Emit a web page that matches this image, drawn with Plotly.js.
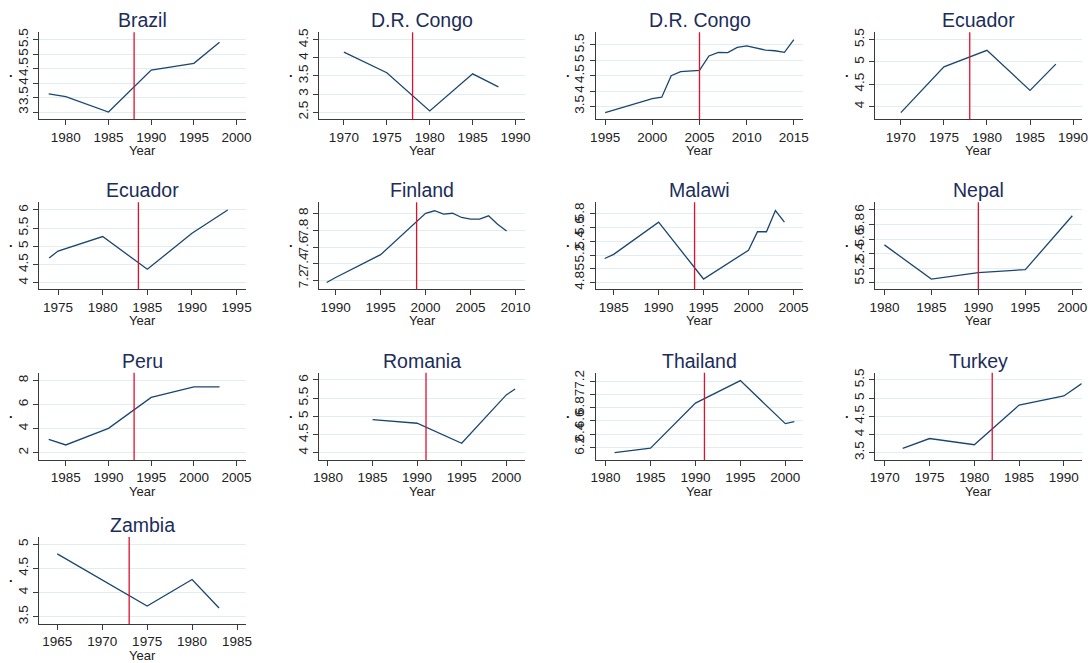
<!DOCTYPE html>
<html>
<head>
<meta charset="utf-8">
<script src="https://cdn.plot.ly/plotly-3.0.1.min.js"></script>
<style>
html,body{margin:0;padding:0;background:#fff;}
#chart{width:1088px;height:663px;}
</style>
</head>
<body>
<div id="chart"></div>
<script>
// ---- data ----
const countries = ["Brazil","D.R. Congo","D.R. Congo","Ecuador","Ecuador","Finland","Malawi","Nepal","Peru","Romania","Thailand","Turkey","Zambia"];
const eventYears = [1988,1978,2005,1978,1984,1999,1994,1990,1993,1991,1991,1982,1973];
const xTitle = "Year";
const yTitle = ".";

const brazilYears = [1978,1980,1985,1990,1995,1998];
const brazilVals  = [3.63,3.53,3.0,4.45,4.68,5.41];
const drc1Years = [1970,1975,1980,1985,1988];
const drc1Vals  = [4.16,3.59,2.53,3.56,3.2];
const drc2Years = [1995,2000,2001,2002,2003,2004,2005,2006,2007,2008,2009,2010,2011,2012,2013,2014,2015];
const drc2Vals  = [3.30,3.75,3.80,4.50,4.63,4.66,4.67,5.14,5.26,5.25,5.42,5.47,5.39,5.33,5.31,5.26,5.67];
const ecu1Years = [1970,1975,1980,1985,1988];
const ecu1Vals  = [3.86,4.89,5.26,4.36,4.95];
const ecu2Years = [1974,1975,1980,1985,1990,1994];
const ecu2Vals  = [4.68,4.87,5.27,4.37,5.36,6.0];
const finYears = [1989,1990,1995,2000,2001,2002,2003,2004,2005,2006,2007,2008,2009];
const finVals  = [7.18,7.24,7.51,8.0,8.03,7.99,8.0,7.95,7.93,7.93,7.97,7.87,7.79];
const malYears = [1984,1985,1990,1995,2000,2001,2002,2003,2004];
const malVals  = [5.15,5.21,5.68,4.85,5.27,5.54,5.54,5.85,5.68];
const nepYears = [1980,1985,1990,1995,2000];
const nepVals  = [5.52,5.05,5.14,5.18,5.92];
const peruYears = [1983,1985,1990,1995,2000,2003];
const peruVals  = [3.1,2.64,4.02,6.59,7.47,7.47];
const romYears = [1985,1990,1995,2000,2001];
const romVals  = [4.91,4.81,4.26,5.59,5.75];
const thaYears = [1981,1985,1990,1995,2000,2001];
const thaVals  = [6.12,6.19,6.87,7.21,6.56,6.59];
const turYears = [1972,1975,1980,1985,1990,1992];
const turVals  = [3.62,3.89,3.72,4.81,5.06,5.4];
const zamYears = [1965,1975,1980,1983];
const zamVals  = [4.8,3.72,4.27,3.68];

const seriesYears = [brazilYears,drc1Years,drc2Years,ecu1Years,ecu2Years,finYears,malYears,nepYears,peruYears,romYears,thaYears,turYears,zamYears];
const seriesVals  = [brazilVals,drc1Vals,drc2Vals,ecu1Vals,ecu2Vals,finVals,malVals,nepVals,peruVals,romVals,thaVals,turVals,zamVals];

const yTickVals = [
  [3,3.5,4,4.5,5,5.5],
  [2.5,3,3.5,4,4.5],
  [3.5,4,4.5,5,5.5],
  [4,4.5,5,5.5],
  [4,4.5,5,5.5,6],
  [7.2,7.4,7.6,7.8,8],
  [4.8,5,5.2,5.4,5.6,5.8],
  [5,5.2,5.4,5.6,5.8,6],
  [2,4,6,8],
  [4,4.5,5,5.5,6],
  [6.2,6.4,6.6,6.8,7,7.2],
  [3.5,4,4.5,5,5.5],
  [3.5,4,4.5,5]
];
const xTickStart = [1980,1970,1995,1970,1975,1990,1985,1980,1985,1980,1980,1970,1965];

// ---- axis configuration ----
const xRanges = [[1976.9,2001.1],[1967.1,1991.1],[1994,2016],[1967,1991],[1972.9,1996.05],[1988.15,2011.05],[1983,2006.1],[1979,2001],[1981.9,2006.1],[1979,2002.1],[1978.9,2002],[1968.9,1992],[1963,1986]];
const yRanges = [[2.75,5.75],[2.3,4.71],[3.08,5.91],[3.71,5.665],[3.82,6.21],[7.1,8.13],[4.7,5.97],[4.91,6.105],[1.39,8.64],[3.8,6.2],[6.01,7.33],[3.3,5.7],[3.35,5.15]];

const W = 1088, H = 663;
const colL = [39.3,319,595.7,875];
const colR = [246,525,803.3,1081.7];
const rowT = [32.3,202.3,372.7,537];
const rowB = [119.3,289.3,460,624];

const FONT = "Liberation Sans, Arial, Helvetica, sans-serif";
const lineColor = "#1a476f";
const eventColor = "#e0102f";
const axisColor = "#3a3a3a";

const data = [];
const layout = {
  width: W, height: H,
  margin: {l:0,r:0,t:0,b:0},
  paper_bgcolor: "#ffffff",
  plot_bgcolor: "#ffffff",
  showlegend: false,
  font: {family: FONT, color: "#222"},
  shapes: [],
  annotations: []
};

countries.forEach((name, i) => {
  const n = i + 1;
  const sfx = n === 1 ? "" : String(n);
  const c = i % 4, r = Math.floor(i / 4);
  data.push({
    type: "scatter", mode: "lines",
    x: seriesYears[i], y: seriesVals[i],
    xaxis: "x" + sfx, yaxis: "y" + sfx,
    line: {color: lineColor, width: 1.3},
    hoverinfo: "x+y"
  });
  layout["xaxis" + sfx] = {
    domain: [colL[c] / W, colR[c] / W],
    range: xRanges[i],
    anchor: "y" + sfx,
    tickmode: "linear", tick0: xTickStart[i], dtick: 5,
    ticks: "outside", ticklen: 5, tickwidth: 1, tickcolor: axisColor,
    showline: true, linecolor: axisColor, linewidth: 1,
    showgrid: false, zeroline: false,
    ticklabeloverflow: "allow",
    tickfont: {family: FONT, size: 13.5, color: "#222"}
  };
  layout["yaxis" + sfx] = {
    domain: [1 - rowB[r] / H, 1 - rowT[r] / H],
    range: yRanges[i],
    anchor: "x" + sfx,
    tickmode: "array", tickvals: yTickVals[i],
    ticks: "outside", ticklen: 5, tickwidth: 1, tickcolor: axisColor,
    showline: true, linecolor: axisColor, linewidth: 1,
    showgrid: true, gridcolor: "#e2edf0", gridwidth: 1,
    zeroline: false,
    tickangle: -90,
    tickfont: {family: FONT, size: 13.5, color: "#222"}
  };
  layout.shapes.push({
    type: "line", xref: "x" + sfx, yref: "y" + sfx + " domain",
    x0: eventYears[i], x1: eventYears[i], y0: 0, y1: 1,
    line: {color: eventColor, width: 1.3}
  });
  // panel title
  layout.annotations.push({
    text: name, showarrow: false,
    xref: "x" + sfx + " domain", yref: "y" + sfx + " domain",
    x: 0.5, y: 1, xanchor: "center", yanchor: "bottom", yshift: -1,
    font: {family: FONT, size: 19.5, color: "#1c2d5a"}
  });
  // x-axis title
  layout.annotations.push({
    text: xTitle, showarrow: false,
    xref: "x" + sfx + " domain", yref: "y" + sfx + " domain",
    x: 0.5, y: 0, xanchor: "center", yanchor: "middle", yshift: -31,
    font: {family: FONT, size: 13, color: "#222"}
  });
  // y-axis title
  layout.annotations.push({
    text: "<b>" + yTitle + "</b>", showarrow: false,
    xref: "x" + sfx + " domain", yref: "y" + sfx + " domain",
    x: 0, y: 0.5, xanchor: "center", yanchor: "middle", xshift: -28, yshift: 3,
    font: {family: FONT, size: 13, color: "#111"}
  });
});

Plotly.newPlot("chart", data, layout, {displayModeBar: false, staticPlot: true});
</script>
</body>
</html>
